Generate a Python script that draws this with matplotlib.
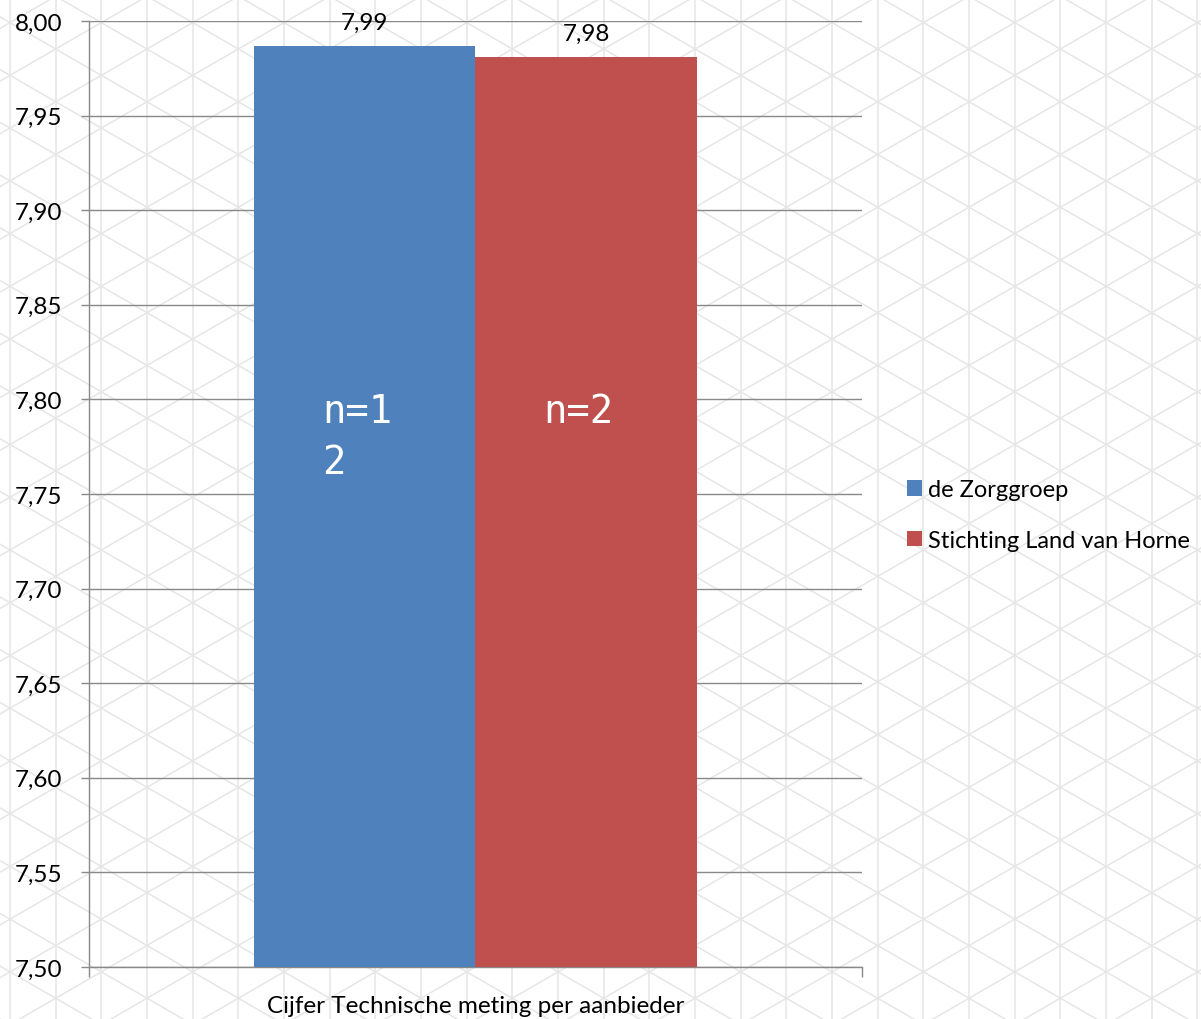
import numpy as np
import matplotlib
matplotlib.use("Agg")
import matplotlib.pyplot as plt
from matplotlib.patches import Patch

plt.rcParams['font.family'] = ['Lato', 'DejaVu Sans']

# Données
categorie = "Cijfer Technische meting per aanbieder"
aanbieders = ["de Zorggroep", "Stichting Land van Horne"]
cijfers = [7.987, 7.981]
labels_cijfer = ["7,99", "7,98"]
labels_n = ["n=1\n2", "n=2"]
couleurs = ["#4f81bd", "#c0504d"]

y_ticks = [7.50, 7.55, 7.60, 7.65, 7.70, 7.75, 7.80, 7.85, 7.90, 7.95, 8.00]

W, H = 1201, 1020
fs = 17.5
fig = plt.figure(figsize=(W / 100, H / 100), dpi=100)

# Motif de fond (treillis triangulaire)
bg = fig.add_axes([0, 0, 1, 1], zorder=0)
bg.set_xlim(0, W)
bg.set_ylim(H, 0)
bg.axis("off")
pas = 45.67
x0, y0 = 147, 50
cote = pas / np.cos(np.radians(30))
pente = np.tan(np.radians(30))
col_fond = "#e6e6e6"
for k in range(-5, 35):
    x = x0 + k * pas
    bg.plot([x, x], [0, H], color=col_fond, lw=1.1)
xs = np.array([-50, W + 50])
for m in range(-40, 60):
    bg.plot(xs, y0 + pente * (xs - x0) + m * cote, color=col_fond, lw=1.1)
    bg.plot(xs, y0 - pente * (xs - x0) + m * cote, color=col_fond, lw=1.1)

# Graphique principal
ax = fig.add_axes([89 / W, 52 / H, 773 / W, 946 / H], zorder=1)
ax.set_facecolor("none")

largeur = 0.2866
positions = [-largeur / 2, largeur / 2]
gris = "#898989"

for i in range(len(aanbieders)):
    ax.bar(positions[i], cijfers[i] - 7.5, bottom=7.5, width=largeur,
           color=couleurs[i], zorder=3)
    ax.annotate(labels_cijfer[i], (positions[i], cijfers[i]), xytext=(0, 13),
                textcoords="offset pixels", ha="center", va="bottom", fontsize=fs)
    ax.text(positions[i] - largeur / 2 + 0.088, 7.804, labels_n[i],
            family="DejaVu Sans Mono", color="white", fontsize=28,
            ha="left", va="top", linespacing=1.45, zorder=4,
            transform=ax.transData)

ax.set_xlim(-0.5, 0.5)
ax.set_ylim(7.5, 8.0)
ax.set_yticks(y_ticks)
ax.set_yticklabels([f"{v:.2f}".replace(".", ",") for v in y_ticks])
ax.yaxis.grid(True, color=gris, lw=1.0, zorder=1)
ax.set_axisbelow(True)

ax.set_xticks([-0.5, 0.5])
ax.set_xticklabels(["", ""])
ax.set_xticks([0], minor=True)
ax.set_xticklabels([categorie], minor=True, fontsize=fs)
ax.tick_params(axis="x", which="minor", length=0, pad=20)
ax.tick_params(axis="x", which="major", length=7, color=gris, width=1)
ax.tick_params(axis="y", length=6, color=gris, width=1, pad=13, labelsize=fs)

for s in ["top", "right"]:
    ax.spines[s].set_visible(False)
for s in ["left", "bottom"]:
    ax.spines[s].set_color(gris)
    ax.spines[s].set_linewidth(1.0)

handles = [Patch(facecolor=c, edgecolor="none") for c in couleurs]
fig.legend(handles, aanbieders, loc="center left",
           bbox_to_anchor=(895 / W, 1 - 516 / H), frameon=False, fontsize=17,
           borderpad=0, handlelength=0.65, handleheight=0.65, handletextpad=0.25,
           labelspacing=1.25)

fig.savefig("out.png", dpi=100)
